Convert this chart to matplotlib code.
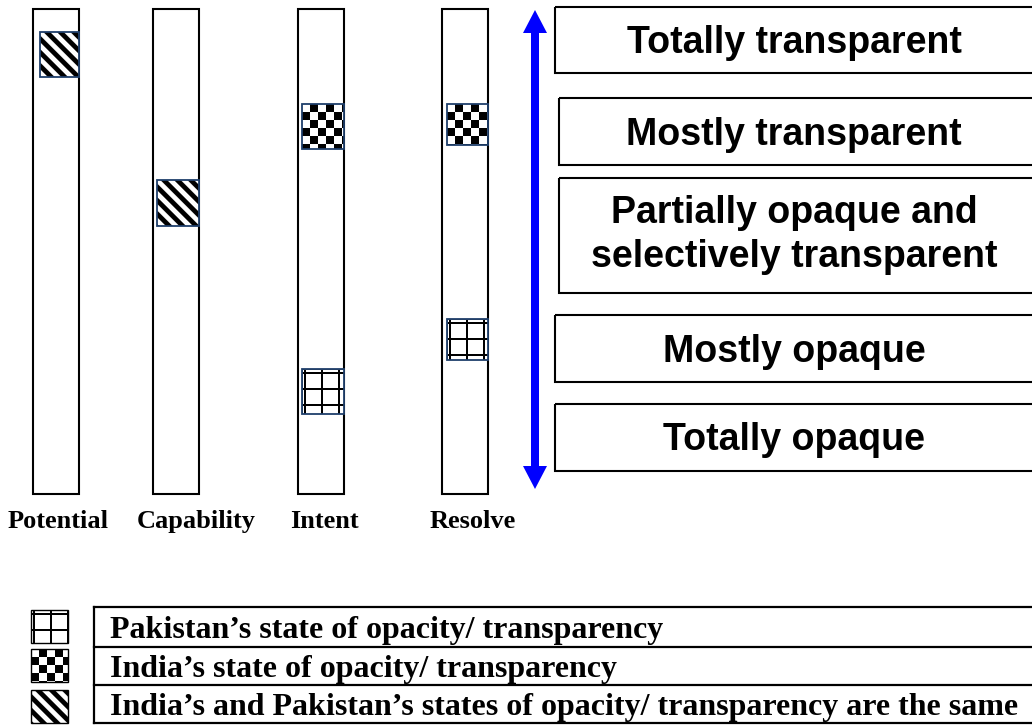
import numpy as np
import matplotlib
matplotlib.use('Agg')
import matplotlib.pyplot as plt
import matplotlib.patches as mpatches

# ---- data ----
categories = ['Potential', 'Capability', 'Intent', 'Resolve']
# position along each column: 0 = totally transparent (top), 1 = totally opaque (bottom)
india_level = [0.094, 0.400, 0.242, 0.238]
pakistan_level = [0.094, 0.400, 0.788, 0.681]

levels = ['Totally transparent', 'Mostly transparent',
          'Partially opaque and\nselectively transparent',
          'Mostly opaque', 'Totally opaque']

legend_text = ["Pakistan\u2019s state of opacity/ transparency",
               "India\u2019s state of opacity/ transparency",
               "India\u2019s and Pakistan\u2019s states of opacity/ transparency are the same"]

# ---- layout (pixels) ----
W, H = 1032, 725
col_left = [33, 153, 298, 442]
col_w = 46
col_top, col_bot = 9, 494
mark_w = [39, 42, 42, 41]
mark_h = [45, 46, 45, 41]
label_x = [58, 196, 324, 473]
label_y = 528

box_left = [555, 559, 559, 555, 555]
box_top = [7, 98, 178, 315, 404]
box_bot = [73, 165, 293, 382, 471]
box_base = [53, 145, 223, 362, 450]   # baseline of first text line
line_gap = 44

NAVY = '#1f3f6b'
SERIF = 'Liberation Serif'
SANS = 'Liberation Sans'


def pattern(kind, w, h):
    w, h = int(round(w)), int(round(h))
    jj, ii = np.meshgrid(np.arange(w), np.arange(h))
    if kind == 'stripes':
        v = np.clip(0.5 + 1.5 * np.cos(2 * np.pi * (jj - ii) / 13.5), 0, 1)
    elif kind == 'checker':
        v = 1.0 - ((jj // 8 + ii // 8) % 2)
    else:  # grid
        v = np.ones((h, w))
        v[((jj - 2) % 17) < 2] = 0
        v[((ii - 3) % 16) < 2] = 0
        v[:, :1] = 0.3
        v[:1, :] = 0.3
    return v


def draw_patch(ax, kind, x0, y0, w, h, edge=NAVY, lw=1.3):
    ax.imshow(pattern(kind, w, h), cmap='gray', vmin=0, vmax=1,
              extent=[x0, x0 + w, y0 + h, y0], origin='upper',
              interpolation='nearest', aspect='auto', zorder=3)
    ax.add_patch(mpatches.Rectangle((x0, y0), w, h, fill=False,
                                    edgecolor=edge, lw=lw, zorder=4))


fig = plt.figure(figsize=(W / 100, H / 100), dpi=100)
ax = fig.add_axes([0, 0, 1, 1])

# columns
col_h = col_bot - col_top
for i, name in enumerate(categories):
    ax.add_patch(mpatches.Rectangle((col_left[i], col_top), col_w, col_h,
                                    fill=False, edgecolor='black', lw=1.5, zorder=2))
    ax.text(label_x[i], label_y, name, ha='center', va='baseline',
            fontsize=19, fontweight='bold', family=SERIF)

    x0 = col_left[i] + col_w - mark_w[i]
    if india_level[i] == pakistan_level[i]:
        yc = col_top + india_level[i] * col_h
        draw_patch(ax, 'stripes', x0, yc - mark_h[i] / 2, mark_w[i], mark_h[i])
    else:
        yc = col_top + india_level[i] * col_h
        draw_patch(ax, 'checker', x0, yc - mark_h[i] / 2, mark_w[i], mark_h[i])
        yc = col_top + pakistan_level[i] * col_h
        draw_patch(ax, 'grid', x0, yc - mark_h[i] / 2, mark_w[i], mark_h[i])

# double-headed blue arrow (two heads drawn from slightly overlapping middles)
arrow_x, arrow_top, arrow_bot = 535, 10, 489
mid = (arrow_top + arrow_bot) / 2
for end, start in ((arrow_top, mid + 3), (arrow_bot, mid - 3)):
    ax.add_patch(mpatches.FancyArrow(arrow_x, start, 0, end - start, width=8,
                                     head_width=24, head_length=23,
                                     length_includes_head=True,
                                     color='#0000ff', lw=0, zorder=3))

# level boxes
for i, txt in enumerate(levels):
    ax.add_patch(mpatches.Rectangle((box_left[i], box_top[i]), 1040 - box_left[i],
                                    box_bot[i] - box_top[i], fill=False,
                                    edgecolor='black', lw=1.5, zorder=2))
    for k, line in enumerate(txt.split('\n')):
        ax.text(794, box_base[i] + k * line_gap, line, ha='center', va='baseline',
                fontsize=27, fontweight='bold', family=SANS)

# legend
row_lines = [607, 647, 685, 723]
icon_top = [610, 649, 690]
icon_kind = ['grid', 'checker', 'stripes']
text_base = [638, 677, 715]
ax.plot([94, 94], [row_lines[0], row_lines[-1]], color='black', lw=1.6)
for y in row_lines:
    ax.plot([94, W], [y, y], color='black', lw=1.6)
for i in range(3):
    draw_patch(ax, icon_kind[i], 31, icon_top[i], 37, 33, edge='black', lw=1.0)
    ax.text(110, text_base[i], legend_text[i], ha='left', va='baseline',
            fontsize=23, fontweight='bold', family=SERIF)

ax.set_xlim(0, W)
ax.set_ylim(H, 0)
ax.axis('off')
fig.savefig('out.png', dpi=100)
